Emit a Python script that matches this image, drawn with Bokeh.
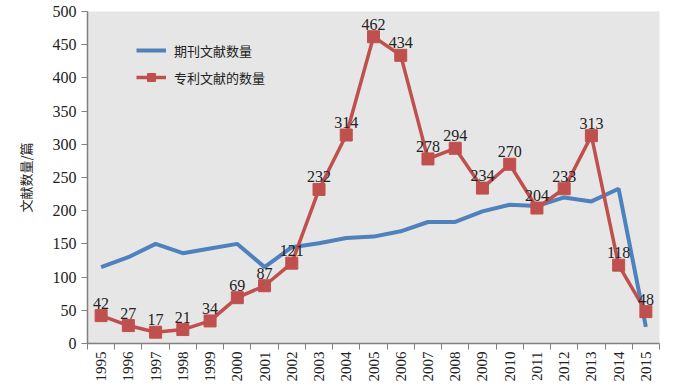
from bokeh.plotting import figure
from bokeh.models import FixedTicker, Label, Legend, LegendItem
from bokeh.embed import file_html
from bokeh.resources import INLINE
from bokeh.core.properties import value

years = list(range(1995, 2016))
journal = [115, 130, 150, 136, 143, 150, 115, 145, 151, 159, 161, 169, 183, 183, 199, 209, 207, 220, 214, 233, 25]
patent = [42, 27, 17, 21, 34, 69, 87, 121, 232, 314, 462, 434, 278, 294, 234, 270, 204, 233, 313, 118, 48]
patent_labels = [str(v) for v in patent]
y_ticks = list(range(0, 501, 50))

BLUE = "#4f81bd"
RED = "#c0504d"
SERIF = "Liberation Serif"
CJK = "Noto Sans CJK SC"

p = figure(width=700, height=392, output_backend="svg", toolbar_location=None,
           x_range=(1994.5, 2015.5), y_range=(0, 500),
           min_border_left=87, min_border_right=41, min_border_top=11, min_border_bottom=49)
p.background_fill_color = "#e6e6e6"
p.border_fill_color = "white"
p.outline_line_color = None
p.xgrid.visible = False
p.ygrid.visible = False

p.xaxis.ticker = FixedTicker(ticks=years, minor_ticks=[y - 0.5 for y in years] + [2015.5])
p.xaxis.major_tick_line_color = None
p.xaxis.major_tick_out = 6
p.xaxis.minor_tick_out = 6
p.xaxis.minor_tick_in = 0
p.xaxis.minor_tick_line_color = "#808080"
p.xaxis.axis_line_color = "#808080"
p.xaxis.axis_line_width = 1.5
p.xaxis.major_label_orientation = 3.14159265 / 2
p.xaxis.major_label_text_font = SERIF
p.xaxis.major_label_text_font_size = "15px"
p.xaxis.major_label_text_color = "#222222"
p.xaxis.major_label_standoff = 2

p.yaxis.ticker = FixedTicker(ticks=y_ticks)
p.yaxis.minor_tick_line_color = None
p.yaxis.major_tick_in = 0
p.yaxis.major_tick_out = 6
p.yaxis.major_tick_line_color = "#808080"
p.yaxis.axis_line_color = "#808080"
p.yaxis.axis_line_width = 1.5
p.yaxis.major_label_text_font = SERIF
p.yaxis.major_label_text_font_size = "16px"
p.yaxis.major_label_text_color = "#222222"
p.yaxis.axis_label = "文献数量/篇"
p.yaxis.axis_label_text_font = CJK
p.yaxis.axis_label_text_font_style = "normal"
p.yaxis.axis_label_text_font_size = "13px"
p.yaxis.axis_label_text_color = "#222222"
p.yaxis.axis_label_standoff = 15

r_blue = p.line(years, journal, line_color=BLUE, line_width=4)
r_red = p.line(years, patent, line_color=RED, line_width=3.5)
r_sq = p.scatter(years, patent, marker="square", size=12, fill_color=RED, line_color=RED)

p.text(years, patent, text=patent_labels, text_font=value(SERIF), text_font_size="16px",
       text_color="#222222", text_align="center", text_baseline="bottom", y_offset=-7)

legend = Legend(items=[LegendItem(label="期刊文献数量", renderers=[r_blue]),
                       LegendItem(label="专利文献的数量", renderers=[r_red, r_sq])],
                location=(49, 256), orientation="vertical",
                background_fill_alpha=0, border_line_color=None,
                label_text_font=CJK, label_text_font_size="13px", label_text_color="#222222",
                glyph_width=30, glyph_height=20, spacing=7, padding=0, label_standoff=8)
p.add_layout(legend)

p.add_layout(Label(x=2015.8, y=-18, text="年份", text_font=CJK, text_font_size="13px",
                   text_color="#222222", text_align="left", text_baseline="middle"))

open("out.html", "w").write(file_html(p, INLINE))
